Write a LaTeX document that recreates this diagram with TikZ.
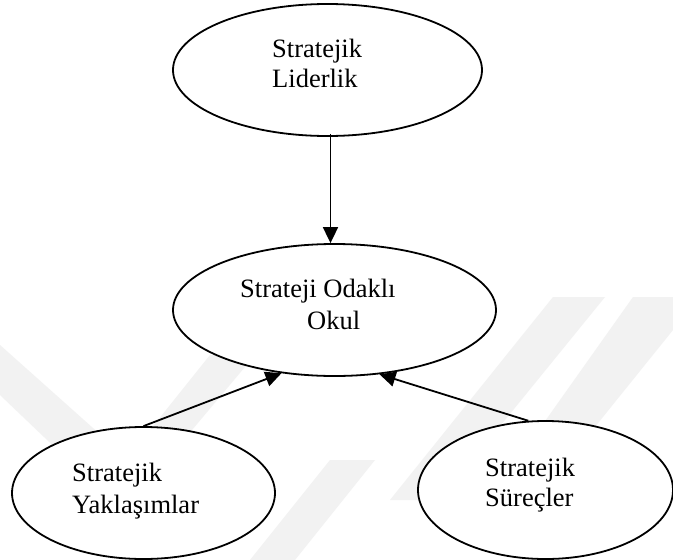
\documentclass[tikz,border=0pt]{standalone}
\usepackage{fontspec}
\setmainfont{Liberation Serif}
\usetikzlibrary{shapes.geometric,arrows.meta}
\begin{document}
\begin{tikzpicture}[x=1pt,y=-1pt,
  oval/.style={draw=black,line width=1.8pt,ellipse,inner sep=0pt,fill=white},
  lbl/.style={anchor=base west,inner sep=0pt,font=\fontsize{26.5}{30}\selectfont,align=left},
  arr/.style={draw=black,line width=1.8pt,-{Triangle[length=16pt,width=15pt]}},
  wm/.style={fill=black!5,draw=none}]
\useasboundingbox (0,0) rectangle (673,560);
\fill[white] (0,0) rectangle (673,560);
% faint watermark bands
\fill[wm] (553,297) -- (605,297) -- (440,500) -- (390,500) -- cycle;
\fill[wm] (633,297) -- (673,297) -- (673,330) -- (520,520) -- (475,520) -- cycle;
\fill[wm] (0,345) -- (0,395) -- (110,500) -- (140,470) -- cycle;
\fill[wm] (210,355) -- (255,355) -- (150,480) -- (110,480) -- cycle;
\fill[wm] (330,460) -- (375,460) -- (295,560) -- (250,560) -- cycle;
% ellipses
\node[oval,minimum width=309pt,minimum height=132pt] (lead) at (327.5,70) {};
\node[oval,minimum width=323pt,minimum height=132pt] (school) at (334.5,310) {};
\node[oval,minimum width=263pt,minimum height=132pt] (approach) at (143.5,493) {};
\node[oval,minimum width=255pt,minimum height=138pt] (process) at (545.5,490) {};
% labels
\node[lbl] (t1) at (272,57) {Stratejik};
\node[lbl] (t2) at (272,87.5) {Liderlik};
\node[lbl] (t3) at (240,297) {Strateji Odaklı};
\node[lbl] (t4) at (307,329) {Okul};
\node[lbl] (t5) at (72,481) {Stratejik};
\node[lbl] (t6) at (72,513) {Yaklaşımlar};
\node[lbl] (t7) at (485,476) {Stratejik};
\node[lbl] (t8) at (485,506) {Süreçler};
% connectors
\draw[arr] ([xshift=3pt,yshift=3pt]lead.south) -- ([xshift=-4pt]school.north);
\draw[arr] (approach.north) -- (school.230);
\draw[arr] (process.104) -- (school.305);
\end{tikzpicture}
\end{document}
